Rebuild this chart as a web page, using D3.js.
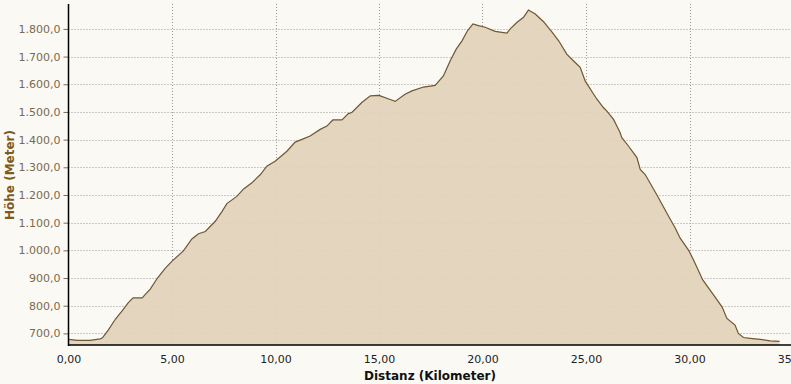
<!DOCTYPE html>
<html>
<head>
<meta charset="utf-8">
<script src="https://cdn.jsdelivr.net/npm/d3@7"></script>
<style>
  body { margin: 0; background: #fbf9f4; }
  svg { display: block; }
</style>
</head>
<body>
<svg width="791" height="384"></svg>
<script>
// elevation profile: distance (km) and height (m)
const distKm = [0, 0.44, 1.04, 1.53, 1.63, 1.92, 2.26, 2.60, 2.89, 3.12, 3.56, 3.70, 3.95, 4.29, 4.68, 4.99,
  5.55, 5.96, 6.28, 6.61, 7.09, 7.42, 7.65, 8.13, 8.46, 8.86, 9.27, 9.58, 9.98, 10.55, 10.95, 11.28, 11.67,
  12.16, 12.48, 12.77, 13.21, 13.52, 13.69, 14.17, 14.58, 14.98, 15.06, 15.51, 15.78, 16.26, 16.59, 17.15,
  17.71, 18.11, 18.44, 18.73, 19.01, 19.28, 19.54, 19.80, 20.13, 20.61, 21.18, 21.34, 21.67, 21.98, 22.22,
  22.55, 22.95, 23.36, 23.68, 24.07, 24.39, 24.72, 24.96, 25.37, 25.53, 25.84, 26.01, 26.33, 26.49, 26.65,
  26.73, 27.05, 27.46, 27.62, 27.86, 28.42, 28.99, 29.31, 29.55, 29.96, 30.19, 30.64, 31.16, 31.57, 31.81,
  32.20, 32.36, 32.61, 32.93, 33.42, 33.90, 34.35]
const heightM = [678, 675, 675, 680, 683, 712, 751, 782, 811, 828, 828, 840, 860, 899, 936, 960,
  998, 1041, 1060, 1068, 1105, 1141, 1169, 1195, 1222, 1244, 1274, 1304, 1322, 1358, 1391, 1401, 1413,
  1437, 1449, 1471, 1471, 1494, 1498, 1534, 1558, 1560, 1558, 1546, 1538, 1564, 1576, 1590,
  1596, 1630, 1685, 1727, 1757, 1794, 1818, 1812, 1806, 1791, 1785, 1800, 1824, 1842, 1868,
  1854, 1826, 1788, 1757, 1709, 1685, 1661, 1612, 1564, 1546, 1516, 1503, 1473, 1449, 1425,
  1407, 1377, 1335, 1292, 1274, 1201, 1123, 1081, 1044, 1000, 966, 893, 839, 796, 754,
  730, 700, 685, 682, 678, 673, 671]

const xTicks = [0, 5, 10, 15, 20, 25, 30, 35]
const yTicks = [700, 800, 900, 1000, 1100, 1200, 1300, 1400, 1500, 1600, 1700, 1800]

const data = distKm.map((d, i) => ({ km: d, m: heightM[i] }))

const de = d3.formatLocale({ decimal: ",", thousands: ".", grouping: [3], currency: ["", " €"] })
const fmtY = de.format(",.1f"), fmtX = de.format(".2f")

const svg = d3.select("svg")
const plotL = 68.5, plotR = 791, plotT = 4, plotB = 345

const xScale = d3.scaleLinear().domain([0, 35]).range([plotL, plotL + 35 * 20.7])
const yScale = d3.scaleLinear().domain([658, 1890]).range([plotB, plotT])

svg.append("rect").attr("width", 791).attr("height", 384).attr("fill", "#fbf9f4")

// dotted grid
svg.append("g").selectAll("line.h")
  .data(yTicks)
  .enter()
  .append("line")
  .attr("x1", plotL).attr("x2", plotR)
  .attr("y1", d => Math.round(yScale(d)) + 0.5)
  .attr("y2", d => Math.round(yScale(d)) + 0.5)
  .attr("stroke", "#9a9a9a")
  .attr("stroke-dasharray", "1,2")
svg.append("g").selectAll("line.v")
  .data(xTicks.slice(1))
  .enter()
  .append("line")
  .attr("x1", d => Math.round(xScale(d)) + 0.5)
  .attr("x2", d => Math.round(xScale(d)) + 0.5)
  .attr("y1", plotT).attr("y2", plotB)
  .attr("stroke", "#9a9a9a")
  .attr("stroke-dasharray", "1,2")

// profile
const area = d3.area()
  .x(d => xScale(d.km))
  .y0(plotB)
  .y1(d => yScale(d.m))
svg.append("path")
  .attr("d", area(data))
  .attr("fill", "#e2d3bb")
  .attr("fill-opacity", 0.95)

const line = d3.line()
  .x(d => xScale(d.km))
  .y(d => yScale(d.m))
svg.append("path")
  .attr("d", line(data))
  .attr("fill", "none")
  .attr("stroke", "#6e5733")
  .attr("stroke-width", 1.2)

// axes
const yAxis = d3.axisLeft(yScale)
  .tickValues(yTicks)
  .tickSize(5)
  .tickPadding(3)
  .tickFormat(fmtY)
const yG = svg.append("g").attr("transform", `translate(${plotL},0)`).call(yAxis)
yG.select(".domain").remove()
yG.selectAll(".tick line").attr("stroke", "#7a6a52")
yG.selectAll(".tick text")
  .attr("fill", "#7a6a52")
  .style("font", "11px Tahoma, 'DejaVu Sans', sans-serif")

const xAxis = d3.axisBottom(xScale)
  .tickValues(xTicks)
  .tickSize(0)
  .tickPadding(10)
  .tickFormat(fmtX)
const xG = svg.append("g").attr("transform", `translate(0,${plotB})`).call(xAxis)
xG.select(".domain").remove()
xG.selectAll(".tick text")
  .attr("fill", "#222")
  .style("font", "11px Tahoma, 'DejaVu Sans', sans-serif")

svg.append("line")
  .attr("x1", plotL).attr("x2", plotL)
  .attr("y1", plotT).attr("y2", plotB + 1)
  .attr("stroke", "#000").attr("stroke-width", 1.5)
svg.append("line")
  .attr("x1", plotL).attr("x2", plotR)
  .attr("y1", plotB).attr("y2", plotB)
  .attr("stroke", "#000").attr("stroke-width", 1.5)

// titles
svg.append("text")
  .attr("transform", "translate(14,175) rotate(-90)")
  .attr("text-anchor", "middle")
  .attr("fill", "#7d5a1e")
  .style("font", "bold 12px Tahoma, 'DejaVu Sans', sans-serif")
  .text("Höhe (Meter)")
svg.append("text")
  .attr("x", 430).attr("y", 380)
  .attr("text-anchor", "middle")
  .attr("fill", "#111")
  .style("font", "bold 12px Tahoma, 'DejaVu Sans', sans-serif")
  .text("Distanz (Kilometer)")
</script>
</body>
</html>
